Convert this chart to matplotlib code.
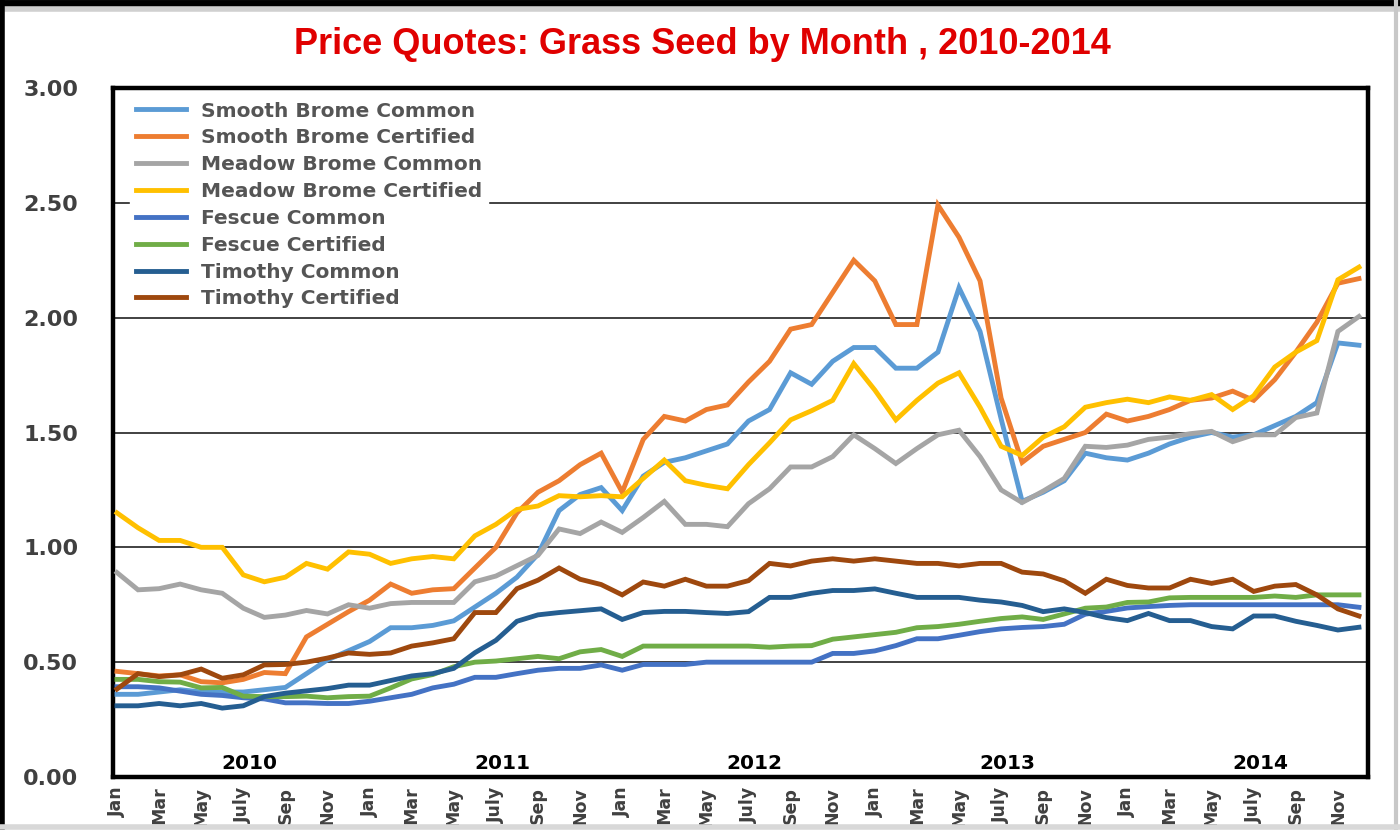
import matplotlib
matplotlib.use("Agg")
import matplotlib.pyplot as plt
from matplotlib.lines import Line2D

years = ["2010", "2011", "2012", "2013", "2014"]
tick_labels = ["Jan", "Mar", "May", "July", "Sep", "Nov"] * 5

smooth_brome_common = [
    0.36, 0.36, 0.37, 0.38, 0.37, 0.37, 0.37, 0.38, 0.39, 0.45, 0.51, 0.55, 0.59, 0.65, 0.65, 0.66,
    0.68, 0.74, 0.80, 0.87, 0.97, 1.16, 1.23, 1.26, 1.16, 1.31, 1.37, 1.39, 1.42, 1.45,
    1.55, 1.60, 1.76, 1.71, 1.81, 1.87, 1.87, 1.78, 1.78, 1.85, 2.13, 1.94, 1.56, 1.20,
    1.24, 1.29, 1.41, 1.39, 1.38, 1.41, 1.45, 1.48, 1.50, 1.48, 1.49, 1.53, 1.57, 1.63, 1.89, 1.88]
smooth_brome_certified = [
    0.46, 0.45, 0.44, 0.445, 0.415, 0.41, 0.425, 0.455, 0.45, 0.61, 0.665, 0.72, 0.77, 0.84, 0.80, 0.815,
    0.82, 0.91, 1.00, 1.15, 1.24, 1.29, 1.36, 1.41, 1.24, 1.47, 1.57, 1.55, 1.60, 1.62,
    1.72, 1.81, 1.95, 1.97, 2.11, 2.25, 2.16, 1.97, 1.97, 2.49, 2.35, 2.16, 1.65, 1.37,
    1.44, 1.47, 1.50, 1.58, 1.55, 1.57, 1.60, 1.64, 1.65, 1.68, 1.64, 1.73, 1.85, 1.98, 2.15, 2.17]
meadow_brome_common = [
    0.89, 0.815, 0.82, 0.84, 0.815, 0.80, 0.735, 0.695, 0.705, 0.725, 0.71, 0.75, 0.735, 0.755, 0.76, 0.76,
    0.76, 0.85, 0.875, 0.92, 0.965, 1.08, 1.06, 1.11, 1.065, 1.13, 1.20, 1.10, 1.10, 1.09,
    1.19, 1.255, 1.35, 1.35, 1.395, 1.49, 1.43, 1.365, 1.43, 1.49, 1.51, 1.395, 1.25, 1.195,
    1.245, 1.30, 1.44, 1.435, 1.445, 1.47, 1.48, 1.495, 1.505, 1.46, 1.49, 1.49, 1.565, 1.585, 1.94, 2.005]
meadow_brome_certified = [
    1.15, 1.085, 1.03, 1.03, 1.00, 1.00, 0.88, 0.85, 0.87, 0.93, 0.905, 0.98, 0.97, 0.93, 0.95, 0.96,
    0.95, 1.05, 1.10, 1.165, 1.18, 1.225, 1.22, 1.225, 1.22, 1.30, 1.38, 1.29, 1.27, 1.255,
    1.36, 1.455, 1.555, 1.595, 1.64, 1.80, 1.685, 1.555, 1.64, 1.715, 1.76, 1.61, 1.44, 1.40,
    1.48, 1.525, 1.61, 1.63, 1.645, 1.63, 1.655, 1.64, 1.665, 1.60, 1.66, 1.785, 1.85, 1.90, 2.165, 2.22]
fescue_common = [
    0.393, 0.393, 0.388, 0.374, 0.36, 0.355, 0.345, 0.34, 0.323, 0.323, 0.32, 0.32, 0.33, 0.345, 0.36, 0.388,
    0.404, 0.434, 0.434, 0.45, 0.465, 0.473, 0.473, 0.488, 0.465, 0.49, 0.49, 0.49, 0.50, 0.50,
    0.50, 0.50, 0.50, 0.50, 0.538, 0.538, 0.549, 0.572, 0.602, 0.602, 0.617, 0.633, 0.645, 0.651,
    0.655, 0.665, 0.709, 0.721, 0.736, 0.742, 0.747, 0.75, 0.75, 0.75, 0.75, 0.75, 0.75, 0.75, 0.75, 0.739]
fescue_certified = [
    0.425, 0.425, 0.415, 0.413, 0.388, 0.39, 0.352, 0.35, 0.35, 0.352, 0.345, 0.35, 0.352, 0.388, 0.427, 0.446,
    0.48, 0.50, 0.505, 0.515, 0.525, 0.515, 0.545, 0.555, 0.525, 0.57, 0.57, 0.57, 0.57, 0.57,
    0.57, 0.565, 0.57, 0.572, 0.60, 0.61, 0.62, 0.63, 0.65, 0.655, 0.665, 0.678, 0.69, 0.697,
    0.686, 0.71, 0.735, 0.74, 0.76, 0.762, 0.78, 0.782, 0.782, 0.782, 0.782, 0.788, 0.782, 0.793, 0.793, 0.793]
timothy_common = [
    0.31, 0.31, 0.32, 0.31, 0.32, 0.30, 0.31, 0.35, 0.365, 0.375, 0.385, 0.40, 0.40, 0.42, 0.44, 0.45,
    0.473, 0.541, 0.595, 0.678, 0.706, 0.716, 0.724, 0.732, 0.686, 0.716, 0.721, 0.721, 0.716, 0.712,
    0.72, 0.782, 0.782, 0.80, 0.812, 0.812, 0.819, 0.80, 0.782, 0.782, 0.782, 0.77, 0.762, 0.747,
    0.72, 0.732, 0.716, 0.694, 0.681, 0.712, 0.681, 0.681, 0.655, 0.645, 0.701, 0.701, 0.678, 0.66, 0.64, 0.652]
timothy_certified = [
    0.383, 0.45, 0.437, 0.445, 0.47, 0.43, 0.445, 0.488, 0.49, 0.50, 0.518, 0.54, 0.534, 0.54, 0.57, 0.584,
    0.602, 0.716, 0.716, 0.82, 0.857, 0.91, 0.861, 0.838, 0.793, 0.849, 0.831, 0.861, 0.831, 0.831,
    0.855, 0.93, 0.919, 0.94, 0.95, 0.94, 0.95, 0.94, 0.93, 0.93, 0.919, 0.93, 0.93, 0.892,
    0.884, 0.854, 0.80, 0.861, 0.834, 0.823, 0.823, 0.861, 0.843, 0.861, 0.808, 0.831, 0.838, 0.793, 0.732, 0.701]

series_names = ["Smooth Brome Common", "Smooth Brome Certified", "Meadow Brome Common",
                "Meadow Brome Certified", "Fescue Common", "Fescue Certified",
                "Timothy Common", "Timothy Certified"]
series_values = [smooth_brome_common, smooth_brome_certified, meadow_brome_common,
                 meadow_brome_certified, fescue_common, fescue_certified,
                 timothy_common, timothy_certified]
series_colors = ["#5B9BD5", "#ED7D31", "#A5A5A5", "#FFC000",
                 "#4472C4", "#70AD47", "#255E91", "#9E480E"]

W, H = 1400, 830
fig = plt.figure(figsize=(W / 100, H / 100), dpi=100)
fig.patch.set_facecolor("white")

ax = fig.add_axes([113 / W, 53 / H, (1368 - 113) / W, (777 - 88) / H])
n = len(smooth_brome_common)
x = list(range(n))

for name, vals, col in zip(series_names, series_values, series_colors):
    ax.plot(x, vals, color=col, lw=3.5, label=name, solid_joinstyle="miter", zorder=3)

yt = [0, 0.5, 1.0, 1.5, 2.0, 2.5, 3.0]
ax.set_ylim(0, 3.0)
ax.set_xlim(-0.19, n - 1 + 0.43)
ax.set_yticks(yt)
ax.set_yticklabels([f"{v:.2f}" for v in yt], fontsize=16, fontweight="bold",
                   color="#404040", family="DejaVu Sans")
ax.yaxis.grid(True, color="#333333", lw=1.3, zorder=1)
ax.set_axisbelow(True)
ax.tick_params(axis="y", length=0, pad=25)
ax.tick_params(axis="x", length=0, pad=7)

ax.set_xticks(list(range(0, n, 2)))
ax.set_xticklabels(tick_labels, rotation=90, fontsize=12.5, fontweight="bold",
                   color="#404040", family="DejaVu Sans", va="top", ha="center")

for s in ax.spines.values():
    s.set_linewidth(3.2)
    s.set_color("black")

for k, yr in enumerate(years):
    ax.text(12 * k + 6.3, 0.06, yr, ha="center", va="center", fontsize=14.5,
            fontweight="bold", color="black", family="DejaVu Sans", zorder=4)

leg = ax.legend(loc="upper left", bbox_to_anchor=(0.01, 0.995), frameon=True,
                prop={"family": "DejaVu Sans", "weight": "bold", "size": 14.5},
                handlelength=2.5, handletextpad=0.75, labelspacing=0.39,
                borderpad=0.3, borderaxespad=0.2)
leg.get_frame().set_facecolor("white")
leg.get_frame().set_edgecolor("white")
leg.get_frame().set_alpha(1)
for t in leg.get_texts():
    t.set_color("#555555")
leg.set_zorder(5)

fig.text(702 / W, 1 - 45 / H, "Price Quotes: Grass Seed by Month , 2010-2014",
         ha="center", va="center", fontsize=26, fontweight="bold",
         color="#E00000", family="Liberation Sans")

# outer frame of the picture
fig.add_artist(Line2D([0, 1], [1 - 3 / H, 1 - 3 / H], transform=fig.transFigure, color="black", lw=5))
fig.add_artist(Line2D([0, 1], [1 - 9 / H, 1 - 9 / H], transform=fig.transFigure, color="#D0D0D0", lw=4))
fig.add_artist(Line2D([2 / W, 2 / W], [0, 1], transform=fig.transFigure, color="black", lw=4))
fig.add_artist(Line2D([1 - 4 / W, 1 - 4 / W], [0, 1], transform=fig.transFigure, color="#C8C8C8", lw=3))
fig.add_artist(Line2D([0, 1], [3 / H, 3 / H], transform=fig.transFigure, color="#D8D8D8", lw=4))

fig.savefig("out.png", dpi=100, facecolor="white")
